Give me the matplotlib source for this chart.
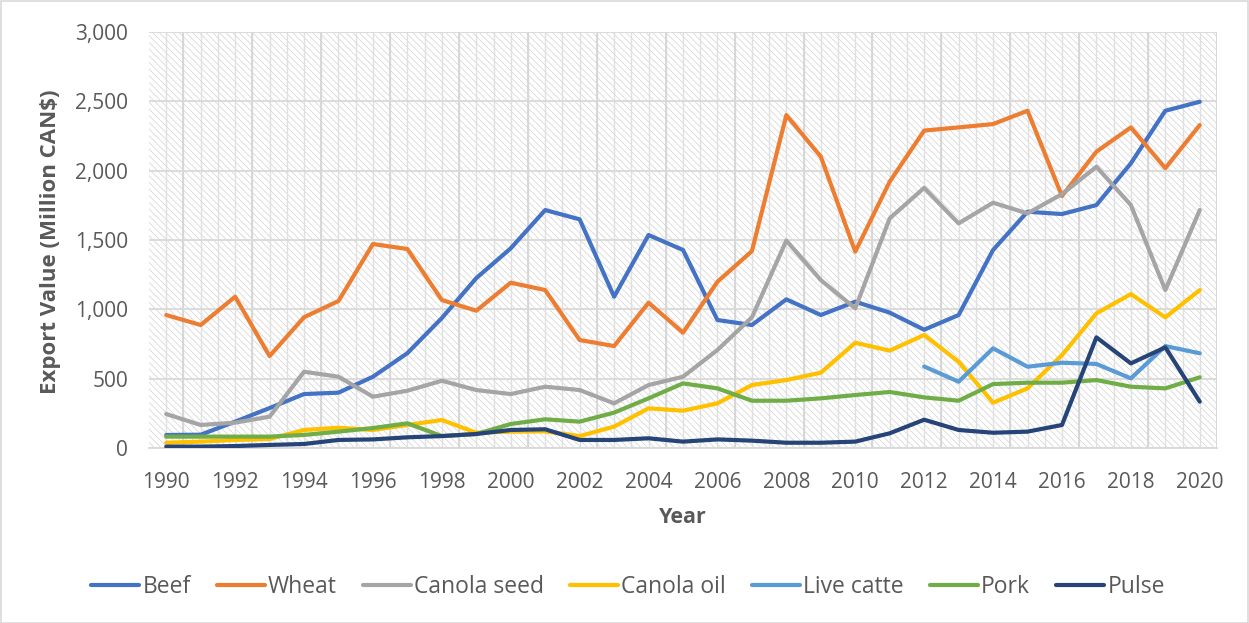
import matplotlib
matplotlib.use("Agg")
import matplotlib.pyplot as plt
from matplotlib.patches import Rectangle
from matplotlib.ticker import FuncFormatter
import numpy as np

years = list(range(1990, 2021))

beef = [94, 96, 190, 288, 389, 399, 514, 684, 937, 1225, 1440, 1716, 1649, 1091, 1536, 1428,
        923, 887, 1072, 959, 1055, 976, 853, 959, 1428, 1704, 1687, 1752, 2053, 2432, 2497]
wheat = [959, 887, 1091, 663, 943, 1060, 1471, 1435, 1067, 990, 1192, 1139, 779, 735, 1048, 832,
         1199, 1420, 2401, 2101, 1416, 1921, 2289, 2312, 2336, 2432, 1817, 2137, 2312, 2018, 2329]
canola_seed = [245, 166, 183, 226, 550, 514, 370, 413, 485, 418, 389, 442, 418, 322, 454, 514,
               707, 942, 1496, 1211, 1007, 1656, 1876, 1620, 1769, 1692, 1831, 2028, 1752, 1139, 1716]
canola_oil = [38, 46, 58, 65, 130, 146, 130, 166, 202, 110, 118, 120, 86, 154, 286, 269,
              322, 454, 490, 543, 759, 702, 815, 622, 327, 430, 670, 971, 1110, 942, 1139]
live_cattle = [None] * 22 + [588, 478, 719, 586, 615, 606, 502, 735, 683]
pork = [82, 82, 82, 82, 94, 118, 144, 178, 86, 101, 173, 207, 190, 255, 358, 466,
        430, 341, 341, 358, 382, 404, 365, 341, 461, 471, 471, 490, 442, 430, 510]
pulse = [10, 10, 14, 22, 29, 58, 62, 77, 86, 101, 130, 135, 58, 58, 70, 46,
         62, 53, 38, 38, 46, 106, 204, 130, 110, 118, 166, 798, 610, 726, 334]

series_names = ["Beef", "Wheat", "Canola seed", "Canola oil", "Live catte", "Pork", "Pulse"]
series_values = [beef, wheat, canola_seed, canola_oil, live_cattle, pork, pulse]
series_colors = ["#4472C4", "#ED7D31", "#A5A5A5", "#FFC000", "#5B9BD5", "#70AD47", "#264478"]

x_ticks = list(range(1990, 2021, 2))
y_ticks = list(range(0, 3001, 500))

plt.rcParams['font.family'] = ['Open Sans', 'DejaVu Sans']
plt.rcParams['hatch.linewidth'] = 0.5
plt.rcParams['hatch.color'] = '#d2d2d2'

W, H = 1249, 623
fig = plt.figure(figsize=(W / 100, H / 100), dpi=100)
ax = fig.add_axes([149 / W, 1 - 448 / H, (1217 - 149) / W, (448 - 32) / H])

# hatched plot-area background
bg = Rectangle((0, 0), 1, 1, transform=ax.transAxes, facecolor='white',
               edgecolor='#d2d2d2', hatch='\\\\\\\\\\', linewidth=0, zorder=0)
ax.add_patch(bg)
ax.patch.set_visible(False)

ax.set_xlim(1989.5, 2020.5)
ax.set_ylim(0, 3000)

# gridlines
for xv in np.arange(1990.0, 2020.6, 0.5):
    ax.axvline(xv, color='#e0e0e0', lw=1.0, zorder=1)
for xv in np.arange(1990.5, 2020.6, 2):
    ax.axvline(xv, color='#d6d6d6', lw=1.3, zorder=1)
for yv in y_ticks:
    ax.axhline(yv, color='#d9d9d9', lw=1.3, zorder=1)

for name, vals, col in zip(series_names, series_values, series_colors):
    xs = [y for y, v in zip(years, vals) if v is not None]
    ys = [v for v in vals if v is not None]
    ax.plot(xs, ys, color=col, lw=3.0, label=name, solid_capstyle='round',
            solid_joinstyle='round', zorder=3)

ax.set_xticks(x_ticks)
ax.set_yticks(y_ticks)
ax.yaxis.set_major_formatter(FuncFormatter(lambda v, p: f"{int(v):,}"))
ax.tick_params(axis='both', length=0, labelsize=15, labelcolor='#595959')
ax.tick_params(axis='x', pad=17)
ax.tick_params(axis='y', pad=15)

for s in ['top', 'right', 'left']:
    ax.spines[s].set_visible(False)
ax.spines['bottom'].set_color('#d9d9d9')
ax.spines['bottom'].set_linewidth(1.3)

ax.set_xlabel("Year", fontsize=15.5, fontweight='bold', color='#595959')
ax.set_ylabel("Export Value (Million CAN$)", fontsize=16, fontweight='bold',
              color='#595959')
ax.yaxis.set_label_coords((61 - 149) / 1068, 0.495)
ax.xaxis.set_label_coords(0.5, (448 - 507) / 416)

leg = fig.legend(loc='center', bbox_to_anchor=(628 / W, 1 - 587 / H), ncol=7,
                 frameon=False, fontsize=16.5, handlelength=2.1, handletextpad=0.15,
                 columnspacing=1.12, labelcolor='#595959')

fig.patches.append(Rectangle((0.5 / W, 0.5 / H), 1 - 1.5 / W, 1 - 1.5 / H,
                             transform=fig.transFigure, fill=False,
                             edgecolor='#d9d9d9', lw=1.2))

fig.savefig("out.png", dpi=100, facecolor='white')
